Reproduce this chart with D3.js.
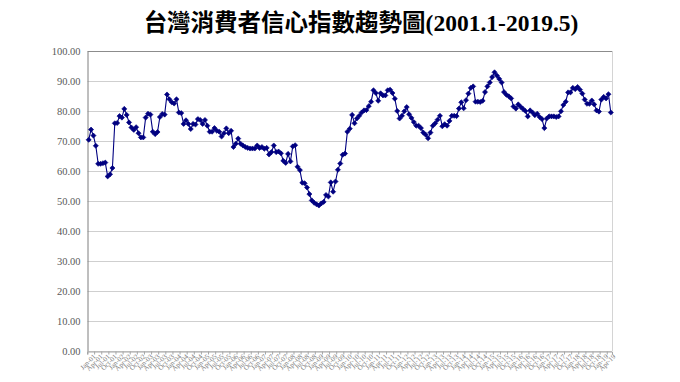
<!DOCTYPE html>
<html>
<head>
<meta charset="utf-8">
<script src="https://cdn.jsdelivr.net/npm/d3@7"></script>
<style>
  body { margin: 0; background: #fff; }
  svg { display: block; }
</style>
</head>
<body>
<div id="chart"></div>
<script>
// monthly index 2001.1 - 2019.5
const startMonth = new Date(2001, 0, 1);
const endMonth = new Date(2019, 5, 1); // exclusive
const months = d3.timeMonth.range(startMonth, endMonth);

const cciValues = [
  70.4, 73.8, 71.8, 68.4, 62.4, 62.4, 62.6, 62.8, 58.2, 58.9, 61.0, 75.9,
  76.0, 78.3, 77.8, 80.7, 78.7, 76.2, 74.5, 73.7, 74.6, 72.6, 71.2, 71.2,
  77.8, 79.1, 78.8, 73.1, 72.3, 73.0, 78.0, 79.0, 78.8, 85.5, 83.9, 82.9,
  82.5, 83.9, 79.5, 79.3, 75.7, 76.9, 75.7, 74.0, 75.7, 75.5, 77.3, 77.0,
  75.7, 77.0, 75.1, 73.1, 73.1, 74.3, 73.4, 73.1, 71.5, 72.6, 74.2, 72.6,
  73.4, 68.0, 69.1, 70.8, 69.1, 68.5, 68.0, 67.7, 67.5, 67.5, 67.5, 68.5,
  67.7, 68.0, 67.4, 67.7, 65.5, 66.3, 68.5, 66.3, 66.5, 65.9, 63.4, 62.7,
  65.7, 63.2, 68.2, 68.6, 61.4, 60.3, 56.1, 55.9, 54.5, 52.3, 50.2, 49.4,
  48.9, 48.5, 49.2, 49.7, 52.0, 51.5, 56.2, 53.1, 56.5, 60.4, 62.5, 65.4,
  65.8, 73.1, 74.1, 78.7, 75.9, 77.5, 78.4, 79.5, 80.2, 80.3, 81.6, 83.1,
  86.9, 86.0, 83.4, 85.9, 85.2, 85.2, 86.9, 87.1, 86.0, 84.1, 80.0, 77.5,
  78.4, 79.9, 81.3, 78.9, 77.7, 76.3, 75.1, 75.1, 74.3, 72.8, 72.1, 70.9,
  72.8, 75.1, 75.9, 77.1, 78.4, 74.9, 75.6, 75.1, 76.7, 78.4, 78.4, 78.3,
  80.8, 82.9, 80.9, 83.6, 85.8, 87.7, 88.2, 83.1, 83.1, 83.0, 83.4, 86.3,
  88.2, 89.5, 91.3, 92.9, 91.8, 90.7, 89.5, 86.3, 85.4, 84.9, 84.2, 81.5,
  80.8, 82.2, 81.4, 80.7, 80.0, 78.2, 80.2, 79.5, 78.6, 79.1, 78.0, 77.3,
  74.3, 77.5, 78.2, 78.2, 78.2, 78.0, 78.2, 79.9, 82.0, 83.1, 86.2, 86.2,
  87.7, 87.3, 88.0, 87.1, 85.8, 83.8, 82.4, 82.4, 83.5, 82.2, 80.2, 79.8,
  83.8, 84.7, 84.2, 85.6, 79.5
];

const yTicks = [0, 10, 20, 30, 40, 50, 60, 70, 80, 90, 100];
const titleText = "台灣消費者信心指數趨勢圖(2001.1-2019.5)";

const W = 680, H = 382;
const margin = { top: 51, right: 68, bottom: 31, left: 87.5 };
const width = W - margin.left - margin.right;
const height = H - margin.top - margin.bottom;

const svg = d3.select("#chart").append("svg")
  .attr("width", W)
  .attr("height", H);

svg.append("text")
  .attr("x", 361)
  .attr("y", 31)
  .attr("text-anchor", "middle")
  .style("font-family", "'Liberation Serif', 'Noto Sans CJK TC', serif")
  .style("font-weight", "bold")
  .style("font-size", "23.5px")
  .style("fill", "#000")
  .text(titleText);

const g = svg.append("g")
  .attr("transform", `translate(${margin.left},${margin.top})`);

const x = d3.scaleBand()
  .domain(d3.range(cciValues.length))
  .range([0, width])
  .padding(0);

const y = d3.scaleLinear()
  .domain([0, 100])
  .range([height, 0]);

// gridlines
g.selectAll(".grid")
  .data(yTicks)
  .enter().append("line")
  .attr("class", "grid")
  .attr("x1", 0)
  .attr("x2", width)
  .attr("y1", d => Math.round(y(d)) + 0.5)
  .attr("y2", d => Math.round(y(d)) + 0.5)
  .style("stroke", d => d === 100 ? "#8c8c8c" : "#cfcfcf")
  .style("stroke-width", 1);

// right border
g.append("line")
  .attr("x1", width + 0.5).attr("x2", width + 0.5)
  .attr("y1", 0).attr("y2", height)
  .style("stroke", "#d4d4d4");

// y axis
const yAxis = d3.axisLeft(y)
  .tickValues(yTicks)
  .tickFormat(d3.format(".2f"))
  .tickSize(0)
  .tickPadding(7);

const yG = g.append("g").call(yAxis);
yG.select(".domain").style("stroke", "#7f7f7f");
yG.selectAll("text")
  .style("font-family", "'Liberation Serif', serif")
  .style("font-size", "10.5px")
  .style("fill", "#595959");

// x axis, label every 3rd month
const fmt = d3.timeFormat("%b-%y");
const xAxis = d3.axisBottom(x)
  .tickValues(d3.range(0, cciValues.length, 3))
  .tickFormat(i => fmt(months[i]))
  .tickSize(3)
  .tickPadding(2);

const xG = g.append("g")
  .attr("transform", `translate(0,${Math.round(height) + 0.5})`)
  .call(xAxis);
xG.select(".domain").style("stroke", "#a6a6a6");
xG.selectAll(".tick line")
  .attr("transform", `translate(${-x.bandwidth() / 2},0)`)
  .style("stroke", "#a6a6a6");
xG.selectAll("text")
  .style("font-family", "'Liberation Serif', serif")
  .style("font-size", "7px")
  .style("fill", "#7a7a7a")
  .attr("text-anchor", "end")
  .attr("dx", "0.2em")
  .attr("dy", "0.6em")
  .attr("transform", "rotate(-45)");

// series
const cx = i => x(i) + x.bandwidth() / 2;

const line = d3.line()
  .x((d, i) => cx(i))
  .y(d => y(d));

g.append("path")
  .datum(cciValues)
  .attr("d", line)
  .style("fill", "none")
  .style("stroke", "#000080")
  .style("stroke-width", 1.1);

const marker = d3.symbol().type(d3.symbolSquare).size(13);

g.selectAll(".pt")
  .data(cciValues)
  .enter().append("path")
  .attr("class", "pt")
  .attr("d", marker)
  .attr("transform", (d, i) => `translate(${cx(i)},${y(d)}) rotate(45)`)
  .style("fill", "#000080")
  .style("stroke", "#000080")
  .style("stroke-width", 0.6);
</script>
</body>
</html>
